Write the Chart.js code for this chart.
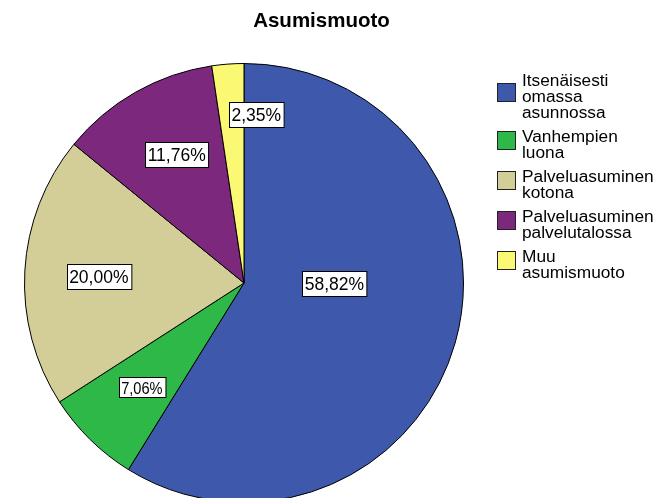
<!DOCTYPE html>
<html>
<head>
<meta charset="utf-8">
<script src="https://cdn.jsdelivr.net/npm/chart.js@4/dist/chart.umd.min.js"></script>
<style>
    html, body { margin: 0; padding: 0; background: #ffffff; overflow: hidden; }
    #wrap { position: absolute; left: 0; top: 0; width: 663px; height: 503px; }
</style>
</head>
<body>
<div id="wrap"><canvas id="pie"></canvas></div>
<script>
// Datos del gráfico
const chartTitle = 'Asumismuoto';
const categories = [
    ['Itsenäisesti', 'omassa', 'asunnossa'],
    ['Vanhempien', 'luona'],
    ['Palveluasuminen', 'kotona'],
    ['Palveluasuminen', 'palvelutalossa'],
    ['Muu', 'asumismuoto']
];
const percentages = [58.82, 7.06, 20.00, 11.76, 2.35];

// Colores SPSS
const sliceColors = ['#3E58AC', '#2EB848', '#D3CE97', '#7C287D', '#FBF873'];

// Posición de etiquetas (fracción del radio, giro en grados respecto al centro del sector)
const labelRadius = [0.412, 0.664, 0.662, 0.661, 0.768];
const labelTurn = [-15.3, 0, -0.8, 2, 8.4];
const labelFontSize = [17.5, 17, 17.5, 17.5, 17.5];
const labelStretch = [1, 0.86, 1, 1, 1];

const FONT = "'Liberation Sans', Arial, sans-serif";

function formatPct(v) {
    return v.toFixed(2).replace('.', ',') + '%';
}

// Plugin: etiquetas con caja, título y leyenda estilo SPSS
const spssDecor = {
    id: 'spssDecor',
    afterDatasetsDraw(chart) {
        const ctx = chart.ctx;
        const meta = chart.getDatasetMeta(0);
        ctx.save();
        meta.data.forEach((arc, i) => {
            const p = arc.getProps(['x', 'y', 'startAngle', 'endAngle', 'outerRadius'], true);
            const mid = (p.startAngle + p.endAngle) / 2 + labelTurn[i] * Math.PI / 180;
            const r = p.outerRadius * labelRadius[i];
            const cx = p.x + Math.cos(mid) * r;
            const cy = p.y + Math.sin(mid) * r;
            const text = formatPct(percentages[i]);
            const fs = labelFontSize[i];
            const sx = labelStretch[i];
            ctx.font = fs + 'px ' + FONT;
            const w = ctx.measureText(text).width * sx + 5;
            const h = Math.round(fs * 1.4 * (sx < 1 ? 0.86 : 1));
            const bx = Math.round(cx - w / 2) + 0.5;
            const by = Math.round(cy - h / 2) + 0.5;
            ctx.fillStyle = '#ffffff';
            ctx.fillRect(bx, by, w, h);
            ctx.strokeStyle = '#000000';
            ctx.lineWidth = 1;
            ctx.strokeRect(bx, by, w, h);
            ctx.fillStyle = '#000000';
            ctx.textAlign = 'center';
            ctx.textBaseline = 'alphabetic';
            ctx.save();
            ctx.translate(cx, by + h / 2 + fs * 0.36);
            ctx.scale(sx, 1);
            ctx.fillText(text, 0, 0);
            ctx.restore();
        });
        ctx.restore();
    },
    afterDraw(chart) {
        const ctx = chart.ctx;
        ctx.save();
        // Título
        ctx.fillStyle = '#000000';
        ctx.font = 'bold 20.5px ' + FONT;
        ctx.textAlign = 'center';
        ctx.textBaseline = 'alphabetic';
        ctx.fillText(chartTitle, 321.5, 26.6);

        // Leyenda
        const lx = 497, tx = 522, lineH = 16, gap = 8;
        let base = 85.5;
        ctx.font = '17.3px ' + FONT;
        ctx.textAlign = 'left';
        categories.forEach((lines, i) => {
            const n = lines.length;
            const sc = base + (n - 1) * 8 - 9;
            ctx.fillStyle = sliceColors[i];
            ctx.fillRect(lx, Math.round(sc - 9.5), 19, 19);
            ctx.strokeStyle = '#222222';
            ctx.lineWidth = 1;
            ctx.strokeRect(lx + 0.5, Math.round(sc - 9.5) + 0.5, 18, 18);
            ctx.fillStyle = '#000000';
            lines.forEach((t, k) => ctx.fillText(t, tx, base + k * lineH));
            base += n * lineH + gap;
        });
        ctx.restore();
    }
};

new Chart(document.getElementById('pie'), {
    type: 'pie',
    data: {
        labels: categories.map(c => c.join(' ')),
        datasets: [{
            data: percentages,
            backgroundColor: sliceColors,
            borderColor: '#000000',
            borderWidth: 1
        }]
    },
    options: {
        responsive: true,
        maintainAspectRatio: false,
        animation: false,
        layout: { padding: { left: 24, right: 199, top: 63, bottom: 0 } },
        plugins: {
            legend: { display: false },
            title: { display: false },
            tooltip: { enabled: false }
        }
    },
    plugins: [spssDecor]
});
</script>
</body>
</html>
